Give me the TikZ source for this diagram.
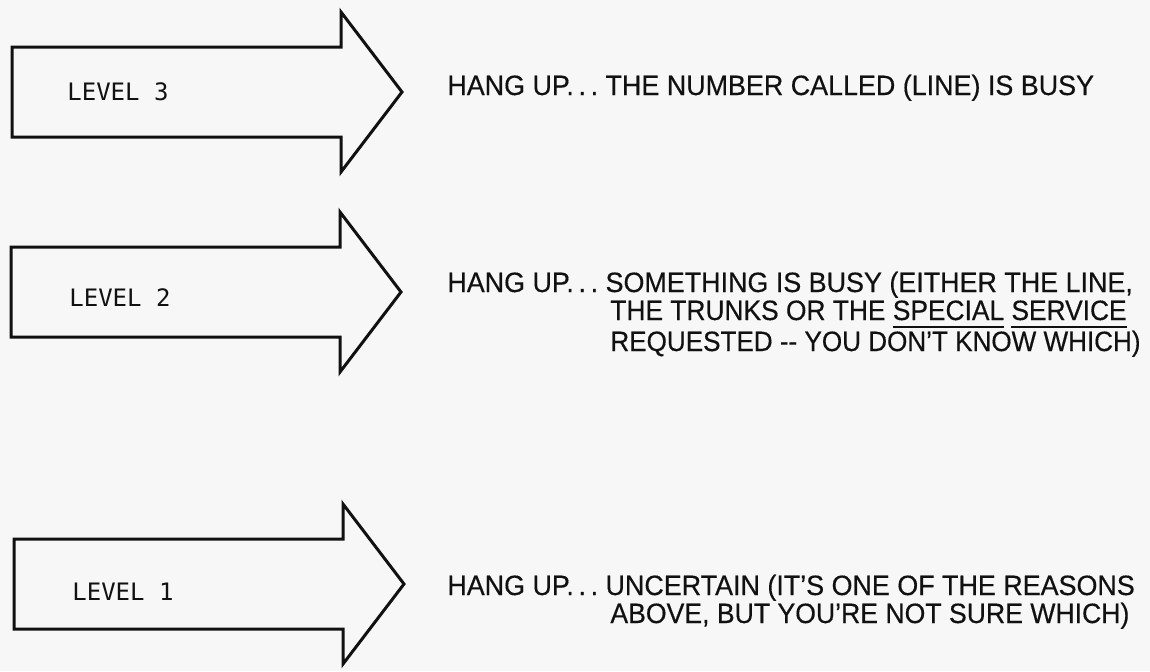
\documentclass[tikz,border=0pt]{standalone}
\usepackage{fontspec}
\usepackage{graphicx}
\newfontfamily\condfont[FakeStretch=0.96,FakeBold=0.4]{Liberation Sans}
\newfontfamily\levelfont{DejaVu Sans Mono}
\definecolor{paper}{HTML}{F7F7F7}
\definecolor{ink}{HTML}{111111}
\newcommand\myul[1]{\setbox0\hbox{#1}\rlap{\rule[-4pt]{\wd0}{1pt}}\box0\relax}
\newcommand\hsq[2]{\scalebox{#1}[1]{#2}}
\begin{document}
\begin{tikzpicture}[x=0.5pt,y=-0.5pt,
  arrowshape/.style={draw=ink, line width=1.5pt, line join=miter},
  levellabel/.style={font=\levelfont\fontsize{12}{14}\selectfont, text=ink, anchor=base west, inner sep=0pt},
  desc/.style={font=\condfont\fontsize{14}{14}\selectfont, text=ink, anchor=base west, inner sep=0pt},
  bigarrow/.pic={\draw[arrowshape] (-390,-45) -- (-61,-45) -- (-61,-80) -- (0,0) -- (-61,80) -- (-61,45) -- (-390,45) -- cycle;}
]
\fill[paper] (0,0) rectangle (1150,671);
\useasboundingbox (0,0) rectangle (1150,671);

% arrows
\pic at (402,92) {bigarrow};
\pic at (401,292) {bigarrow};
\pic at (404,584) {bigarrow};

% level labels
\node[levellabel] (lv3) at (67,100) {LEVEL 3};
\node[levellabel] (lv2) at (69,306) {LEVEL 2};
\node[levellabel] (lv1) at (72,600) {LEVEL 1};

% level 3 text
\node[desc] (t3) at (447,95) {HANG UP.\,.\,.\ THE NUMBER CALLED (LINE) IS BUSY};

% level 2 text
\node[desc] (t2a) at (447,292) {HANG UP.\,.\,.\ SOMETHING IS BUSY (EITHER THE LINE,};
\node[desc] (t2b) at (610,320) {\hsq{0.98}{THE TRUNKS OR THE \myul{SPECIAL} \myul{SERVICE}}};
\node[desc] (t2c) at (610,351) {\hsq{0.97}{REQUESTED -{}- YOU DON’T KNOW WHICH)}};

% level 1 text
\node[desc] (t1a) at (447,595) {HANG UP.\,.\,.\ UNCERTAIN (IT’S ONE OF THE REASONS};
\node[desc] (t1b) at (610,623) {\hsq{0.99}{ABOVE, BUT YOU’RE NOT SURE WHICH)}};
\end{tikzpicture}
\end{document}
